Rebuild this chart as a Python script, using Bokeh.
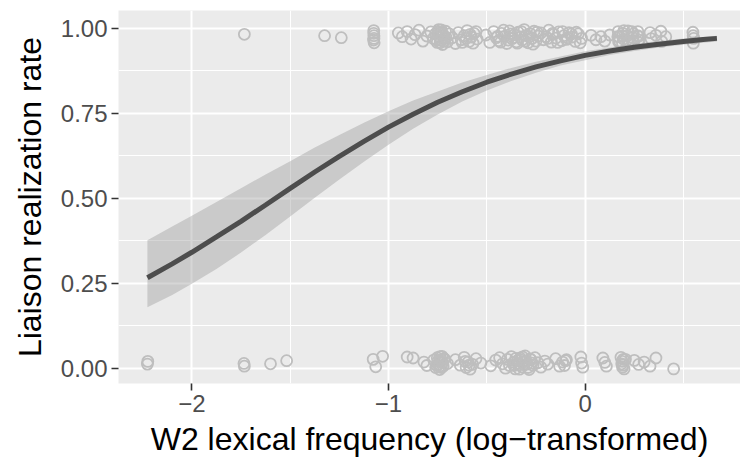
from bokeh.plotting import figure
from bokeh.models import Range1d, FixedTicker, ColumnDataSource
from bokeh.embed import file_html
from bokeh.resources import INLINE

# ---------------- data ----------------
x_tick_values = [-2, -1, 0]
x_tick_labels = ["\u22122", "\u22121", "0"]
x_minor_ticks = [-2.5, -1.5, -0.5, 0.5]
y_tick_values = [0, 0.25, 0.5, 0.75, 1]
y_tick_labels = ["0.00", "0.25", "0.50", "0.75", "1.00"]
y_minor_ticks = [0.125, 0.375, 0.625, 0.875]

# realized liaisons (jittered around 1)
top_x = [-1.733, -1.325, -1.240, -1.075, -1.074, -1.076, -1.073, -0.950, -0.930, -0.905,
         -0.885, -0.865, -0.845, -0.825, -0.805, -0.785, -0.772, -0.760, -0.752, -0.745,
         -0.740, -0.735, -0.730, -0.725, -0.720, -0.715, -0.710, -0.700, -0.690, -0.675,
         -0.660, -0.645, -0.630, -0.615, -0.600, -0.590, -0.578, -0.565, -0.550, -0.505,
         -0.485, -0.465, -0.452, -0.440, -0.425, -0.410, -0.398, -0.385, -0.372, -0.360,
         -0.350, -0.340, -0.330, -0.320, -0.310, -0.300, -0.290, -0.280, -0.270, -0.260,
         -0.250, -0.240, -0.225, -0.212, -0.200, -0.185, -0.172, -0.160, -0.148, -0.135,
         -0.120, -0.108, -0.095, -0.082, -0.065, -0.050, -0.035, -0.018, 0.030, 0.055,
         0.080, 0.100, 0.125, 0.168, 0.172, 0.170, 0.192, 0.195, 0.190, 0.215,
         0.218, 0.240, 0.245, 0.243, 0.268, 0.270, 0.272, 0.330, 0.335, 0.360,
         0.385, 0.390, 0.410, 0.548, 0.552, 0.550,
         -1.075, -1.074, -0.758, -0.748, -0.738, -0.728, -0.718, -0.708, -0.742, -0.732,
         -0.625, -0.605, -0.585, -0.570, -0.555, -0.445, -0.430, -0.415, -0.392, -0.378,
         -0.365, -0.345, -0.325, -0.305, -0.285, -0.265, -0.245, -0.190, -0.165, -0.140,
         -0.115, -0.090, -0.070, -0.045, -0.025, 0.166, 0.174, 0.188, 0.197, 0.213,
         0.220, 0.238, 0.247, 0.266, 0.274, 0.549]
top_y = [0.982, 0.978, 0.972, 0.993, 0.978, 0.965, 0.957, 0.986, 0.975, 0.990,
         0.968, 0.981, 0.994, 0.962, 0.977, 0.989, 0.970, 0.984, 0.958, 0.996,
         0.975, 0.965, 0.988, 0.952, 0.979, 0.969, 0.991, 0.960, 0.983, 0.972,
         0.955, 0.987, 0.966, 0.978, 0.993, 0.961, 0.974, 0.985, 0.968, 0.980,
         0.958, 0.990, 0.972, 0.963, 0.985, 0.976, 0.955, 0.992, 0.969, 0.981,
         0.960, 0.988, 0.974, 0.965, 0.996, 0.979, 0.957, 0.984, 0.970, 0.991,
         0.962, 0.977, 0.986, 0.966, 0.975, 0.994, 0.959, 0.982, 0.971, 0.989,
         0.963, 0.978, 0.967, 0.987, 0.974, 0.961, 0.983, 0.970, 0.979, 0.966,
         0.975, 0.962, 0.980, 0.990, 0.975, 0.960, 0.985, 0.968, 0.955, 0.978,
         0.992, 0.963, 0.983, 0.972, 0.990, 0.958, 0.976, 0.987, 0.969, 0.979,
         0.991, 0.961, 0.975, 0.988, 0.970, 0.956,
         0.985, 0.970, 0.966, 0.990, 0.957, 0.982, 0.962, 0.973, 0.985, 0.995,
         0.958, 0.970, 0.982, 0.956, 0.990, 0.976, 0.959, 0.994, 0.965, 0.983,
         0.972, 0.956, 0.990, 0.962, 0.975, 0.953, 0.988, 0.970, 0.985, 0.958,
         0.990, 0.972, 0.983, 0.988, 0.957, 0.975, 0.962, 0.978, 0.993, 0.965,
         0.957, 0.990, 0.960, 0.978, 0.965, 0.978]

# non-realized liaisons (jittered around 0)
bottom_x = [-2.226, -2.224, -1.733, -1.735, -1.600, -1.518, -1.078, -1.065, -1.030, -0.905,
            -0.875, -0.820, -0.805, -0.770, -0.760, -0.752, -0.745, -0.740, -0.735, -0.728,
            -0.722, -0.715, -0.700, -0.660, -0.635, -0.615, -0.605, -0.595, -0.585, -0.572,
            -0.555, -0.530, -0.480, -0.455, -0.435, -0.420, -0.405, -0.395, -0.385, -0.375,
            -0.365, -0.355, -0.345, -0.338, -0.330, -0.322, -0.315, -0.305, -0.295, -0.285,
            -0.275, -0.265, -0.255, -0.240, -0.225, -0.205, -0.190, -0.150, -0.130, -0.115,
            -0.095, -0.022, -0.018, -0.012, 0.090, 0.100, 0.108, 0.182, 0.188, 0.192,
            0.198, 0.205, 0.250, 0.272, 0.300, 0.330, 0.360, 0.450,
            -0.756, -0.748, -0.738, -0.731, -0.725, -0.718, -0.742, -0.734, -0.362, -0.352,
            -0.342, -0.334, -0.326, -0.318, -0.310, -0.300, -0.290, -0.280, -0.270, 0.186,
            0.194, 0.190, -0.105, -0.100, -0.610, -0.590]
bottom_y = [0.012, 0.020, 0.006, 0.014, 0.013, 0.022, 0.026, 0.004, 0.035, 0.033,
            0.030, 0.018, 0.008, 0.024, 0.002, 0.031, 0.012, -0.004, 0.019, 0.035,
            0.006, 0.027, 0.014, 0.025, 0.009, 0.032, 0.002, 0.018, -0.003, 0.011,
            0.028, 0.015, 0.007, 0.024, 0.031, 0.013, 0.000, 0.026, 0.008, 0.034,
            0.017, -0.002, 0.022, 0.010, 0.030, 0.004, 0.019, 0.036, 0.012, -0.004,
            0.025, 0.009, 0.031, 0.016, 0.003, 0.021, 0.012, 0.028, 0.006, 0.018,
            0.025, 0.033, 0.015, 0.003, 0.030, 0.017, 0.006, 0.032, 0.020, 0.009,
            -0.002, 0.026, 0.023, 0.011, 0.018, 0.006, 0.030, -0.002,
            0.009, 0.022, 0.034, 0.002, 0.016, 0.028, 0.005, 0.025, 0.008, 0.029,
            0.014, -0.003, 0.024, 0.033, 0.010, 0.020, 0.002, 0.027, 0.015, 0.013,
            0.026, 0.003, 0.008, 0.022, 0.020, 0.009]

# fitted logistic curve and its confidence band
fit_x = [-2.226, -2.1, -2.0, -1.875, -1.75, -1.625, -1.5, -1.375, -1.25, -1.125,
         -1.0, -0.875, -0.75, -0.625, -0.5, -0.375, -0.25, -0.125, 0.0, 0.125,
         0.25, 0.375, 0.5, 0.6, 0.67]
fit_y = [0.266, 0.307, 0.341, 0.386, 0.432, 0.480, 0.529, 0.577, 0.623, 0.667,
         0.709, 0.747, 0.782, 0.813, 0.841, 0.865, 0.886, 0.904, 0.920, 0.933,
         0.944, 0.953, 0.961, 0.967, 0.970]
fit_lower = [0.179, 0.215, 0.248, 0.292, 0.340, 0.392, 0.446, 0.501, 0.555, 0.607,
             0.657, 0.704, 0.746, 0.784, 0.817, 0.845, 0.869, 0.890, 0.906, 0.921,
             0.933, 0.943, 0.951, 0.957, 0.961]
fit_upper = [0.376, 0.417, 0.448, 0.489, 0.529, 0.570, 0.609, 0.649, 0.686, 0.722,
             0.756, 0.787, 0.814, 0.840, 0.862, 0.883, 0.901, 0.917, 0.932, 0.943,
             0.954, 0.962, 0.970, 0.974, 0.978]

x_title = "W2 lexical frequency (log\u2212transformed)"
y_title = "Liaison realization rate"

# ---------------- plot ----------------
FONT = "Liberation Sans"

p = figure(frame_width=622, frame_height=373,
           x_range=Range1d(-2.373, 0.790), y_range=Range1d(-0.045, 1.052),
           output_backend="svg", toolbar_location=None,
           min_border_left=118, min_border_right=0, min_border_top=10, min_border_bottom=75)

p.background_fill_color = "#EBEBEB"
p.border_fill_color = "white"
p.outline_line_color = None

p.xaxis.ticker = FixedTicker(ticks=x_tick_values, minor_ticks=x_minor_ticks)
p.yaxis.ticker = FixedTicker(ticks=y_tick_values, minor_ticks=y_minor_ticks)
p.xaxis.major_label_overrides = dict(zip(x_tick_values, x_tick_labels))
p.yaxis.major_label_overrides = dict(zip(y_tick_values, y_tick_labels))

for g in (p.xgrid, p.ygrid):
    g.grid_line_color = "white"
    g.grid_line_width = 2
    g.minor_grid_line_color = "white"
    g.minor_grid_line_width = 1

for ax in (p.xaxis, p.yaxis):
    ax.axis_line_color = None
    ax.major_tick_line_color = "#333333"
    ax.major_tick_line_width = 1.6
    ax.major_tick_out = 7
    ax.major_tick_in = 0
    ax.minor_tick_line_color = None
    ax.major_label_text_font = FONT
    ax.major_label_text_font_size = "24px"
    ax.major_label_text_color = "#4D4D4D"
    ax.major_label_standoff = 4
    ax.axis_label_text_font = FONT
    ax.axis_label_text_font_size = "32px"
    ax.axis_label_text_font_style = "normal"
    ax.axis_label_text_color = "black"

p.xaxis.axis_label = x_title
p.yaxis.axis_label = y_title
p.xaxis.axis_label_standoff = 6
p.yaxis.axis_label_standoff = 10

pts_top = ColumnDataSource(dict(x=top_x, y=top_y))
pts_bot = ColumnDataSource(dict(x=bottom_x, y=bottom_y))
for src in (pts_top, pts_bot):
    p.scatter("x", "y", source=src, marker="circle", size=11,
              fill_color=None, line_color="#BEBEBE", line_width=1.8)

fit = ColumnDataSource(dict(x=fit_x, y=fit_y, lo=fit_lower, hi=fit_upper))
p.varea(x="x", y1="lo", y2="hi", source=fit, fill_color="#999999", fill_alpha=0.4)
p.line("x", "y", source=fit, line_color="#4D4D4D", line_width=5)

open("out.html", "w").write(file_html(p, INLINE))
